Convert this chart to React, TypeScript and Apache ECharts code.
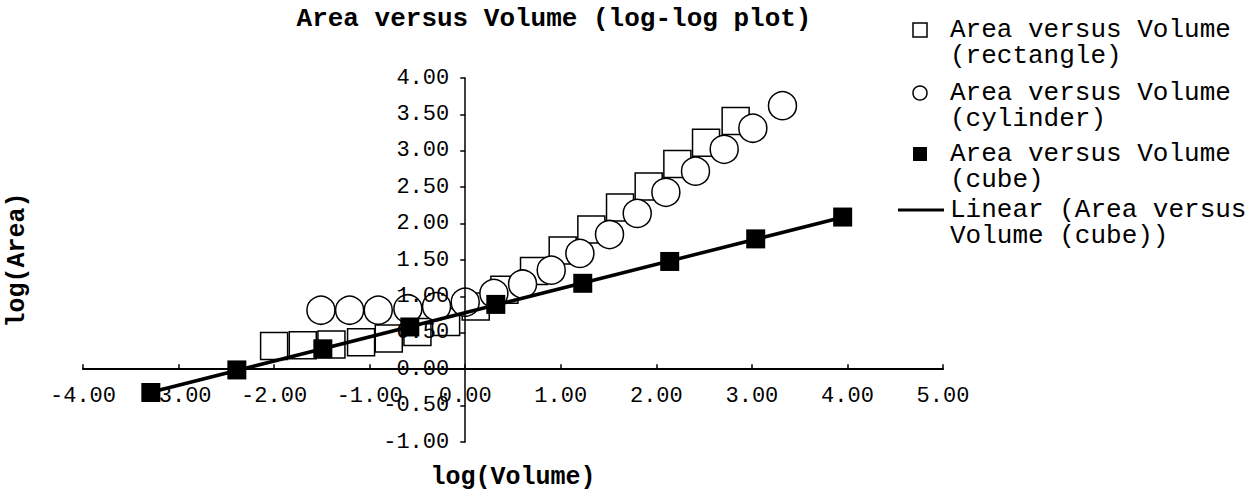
import React, { useEffect, useRef } from "react";
import * as echarts from "echarts";

// log(Volume) / log(Area) values
const rectX = [-2.0, -1.7, -1.4, -1.09, -0.8, -0.5, -0.2, 0.11, 0.41, 0.72, 1.02, 1.32, 1.62, 1.92, 2.22, 2.52, 2.83];
const rectY = [0.32, 0.33, 0.34, 0.37, 0.42, 0.51, 0.65, 0.86, 1.09, 1.35, 1.63, 1.92, 2.22, 2.51, 2.82, 3.11, 3.41];
const cylX = [-1.51, -1.21, -0.91, -0.6, -0.3, 0.0, 0.3, 0.6, 0.9, 1.2, 1.51, 1.8, 2.1, 2.41, 2.71, 3.01, 3.32];
const cylY = [0.81, 0.81, 0.81, 0.83, 0.86, 0.92, 1.04, 1.17, 1.36, 1.59, 1.85, 2.14, 2.43, 2.72, 3.02, 3.31, 3.62];
const cubeX = [-3.29, -2.39, -1.49, -0.58, 0.32, 1.23, 2.14, 3.04, 3.95];
const cubeY = [-0.32, -0.01, 0.28, 0.58, 0.89, 1.18, 1.48, 1.79, 2.09];

const xMin = -4;
const xMax = 5;
const yMin = -1;
const yMax = 4;

const seriesNames = [
  "Area versus Volume (rectangle)",
  "Area versus Volume (cylinder)",
  "Area versus Volume (cube)",
  "Linear (Area versus Volume (cube))",
];
const legendLines = [
  ["Area versus Volume", "(rectangle)"],
  ["Area versus Volume", "(cylinder)"],
  ["Area versus Volume", "(cube)"],
  ["Linear (Area versus", "Volume (cube))"],
];
const legendIcons = ["openRect", "openCircle", "filledRect", "line"];

const titleText = "Area versus Volume (log-log plot)";
const xName = "log(Volume)";
const yName = "log(Area)";

const FONT = "'Liberation Mono', 'Courier New', monospace";

// grid box (pixels)
const GRID = { left: 83, right: 316, top: 78, bottom: 51 };
const W = 1259;
const H = 493;

function pairs(xs: number[], ys: number[]) {
  return xs.map((x, i) => [x, ys[i]]);
}

function trend(xs: number[], ys: number[]) {
  const n = xs.length;
  const mx = xs.reduce((a, b) => a + b, 0) / n;
  const my = ys.reduce((a, b) => a + b, 0) / n;
  let sxy = 0;
  let sxx = 0;
  for (let i = 0; i < n; i++) {
    sxy += (xs[i] - mx) * (ys[i] - my);
    sxx += (xs[i] - mx) * (xs[i] - mx);
  }
  const b = sxy / sxx;
  const a = my - b * mx;
  const x0 = Math.min(...xs);
  const x1 = Math.max(...xs);
  return [
    [x0, a + b * x0],
    [x1, a + b * x1],
  ];
}

function legendGraphic() {
  const centers = [30, 93, 154, 210];
  const lineH = 26;
  const iconX = 920;
  const textX = 950;
  const els: any[] = [];
  legendIcons.forEach((kind, i) => {
    const c = centers[i];
    if (kind === "openRect") {
      els.push({ type: "rect", shape: { x: iconX - 7, y: c - 7, width: 14, height: 14 }, style: { fill: "#fff", stroke: "#000", lineWidth: 1.5 } });
    } else if (kind === "openCircle") {
      els.push({ type: "circle", shape: { cx: iconX, cy: c, r: 7 }, style: { fill: "#fff", stroke: "#000", lineWidth: 1.5 } });
    } else if (kind === "filledRect") {
      els.push({ type: "rect", shape: { x: iconX - 7, y: c - 7, width: 14, height: 14 }, style: { fill: "#000" } });
    } else {
      els.push({ type: "line", shape: { x1: 898, y1: c, x2: 944, y2: c }, style: { stroke: "#000", lineWidth: 3 } });
    }
    legendLines[i].forEach((t, j) => {
      els.push({
        type: "text",
        x: textX,
        y: c + j * lineH,
        style: { text: t, font: `26px ${FONT}`, fill: "#000", verticalAlign: "middle", align: "left" },
      });
    });
  });
  return els;
}

export default function App() {
  const ref = useRef<HTMLDivElement>(null);
  useEffect(() => {
    if (!ref.current) return;
    const chart = echarts.init(ref.current, undefined, { renderer: "svg" });
    // place both axes where the other axis is zero (axes cross at the origin)
    const gw = W - GRID.left - GRID.right;
    const gh = H - GRID.top - GRID.bottom;
    const yAxisOffset = -((0 - xMin) / (xMax - xMin)) * gw;
    const xAxisOffset = -((0 - yMin) / (yMax - yMin)) * gh;
    chart.setOption({
      animation: false,
      backgroundColor: "#fff",
      title: {
        text: titleText,
        left: 554,
        top: 6,
        padding: 0,
        textAlign: "center",
        textStyle: { fontFamily: FONT, fontSize: 26, fontWeight: "bold", color: "#000" },
      },
      graphic: legendGraphic(),
      grid: { ...GRID, containLabel: false, outerBoundsMode: "none" },
      xAxis: {
        type: "value",
        z: 1,
        min: xMin,
        max: xMax,
        interval: 1,
        position: "bottom",
        offset: xAxisOffset,
        name: xName,
        nameLocation: "middle",
        nameGap: 96,
        nameTextStyle: { fontFamily: FONT, fontSize: 25, fontWeight: "bold", color: "#000" },
        axisLine: { onZero: false, lineStyle: { color: "#000", width: 2 } },
        axisTick: { show: true, inside: true, length: 5, lineStyle: { color: "#000", width: 1.5 } },
        axisLabel: {
          margin: 16,
          fontFamily: FONT,
          fontSize: 22,
          color: "#000",
          hideOverlap: false,
          formatter: (v: number) => v.toFixed(2),
        },
        splitLine: { show: false },
      },
      yAxis: {
        type: "value",
        z: 1,
        min: yMin,
        max: yMax,
        interval: 0.5,
        position: "left",
        offset: yAxisOffset,
        name: yName,
        nameLocation: "middle",
        nameGap: 435,
        nameTextStyle: { fontFamily: FONT, fontSize: 25, fontWeight: "bold", color: "#000" },
        axisLine: { onZero: false, lineStyle: { color: "#000", width: 1.5 } },
        axisTick: { show: true, length: 5, lineStyle: { color: "#000", width: 1.5 } },
        axisLabel: {
          margin: 16,
          fontFamily: FONT,
          fontSize: 22,
          color: "#000",
          hideOverlap: false,
          formatter: (v: number) => v.toFixed(2),
        },
        splitLine: { show: false },
      },
      series: [
        {
          name: seriesNames[0],
          type: "scatter",
          z: 0,
          symbol: "rect",
          symbolSize: 27,
          data: pairs(rectX, rectY),
          itemStyle: { color: "#fff", borderColor: "#000", borderWidth: 1.5, opacity: 1 },
          emphasis: { disabled: true },
        },
        {
          name: seriesNames[1],
          type: "scatter",
          z: 0,
          symbol: "circle",
          symbolSize: 28,
          data: pairs(cylX, cylY),
          itemStyle: { color: "#fff", borderColor: "#000", borderWidth: 1.5, opacity: 1 },
          emphasis: { disabled: true },
        },
        {
          name: seriesNames[2],
          type: "scatter",
          z: 2,
          symbol: "rect",
          symbolSize: 19,
          data: pairs(cubeX, cubeY),
          itemStyle: { color: "#000", opacity: 1 },
          emphasis: { disabled: true },
        },
        {
          name: seriesNames[3],
          type: "line",
          z: 3,
          symbol: "none",
          data: trend(cubeX, cubeY),
          lineStyle: { color: "#000", width: 3.5 },
          itemStyle: { color: "#000" },
          emphasis: { disabled: true },
        },
      ],
    });
    return () => chart.dispose();
  }, []);
  return (
    <div
      ref={ref}
      style={{ position: "fixed", left: 0, top: 0, width: W, height: H }}
    />
  );
}
